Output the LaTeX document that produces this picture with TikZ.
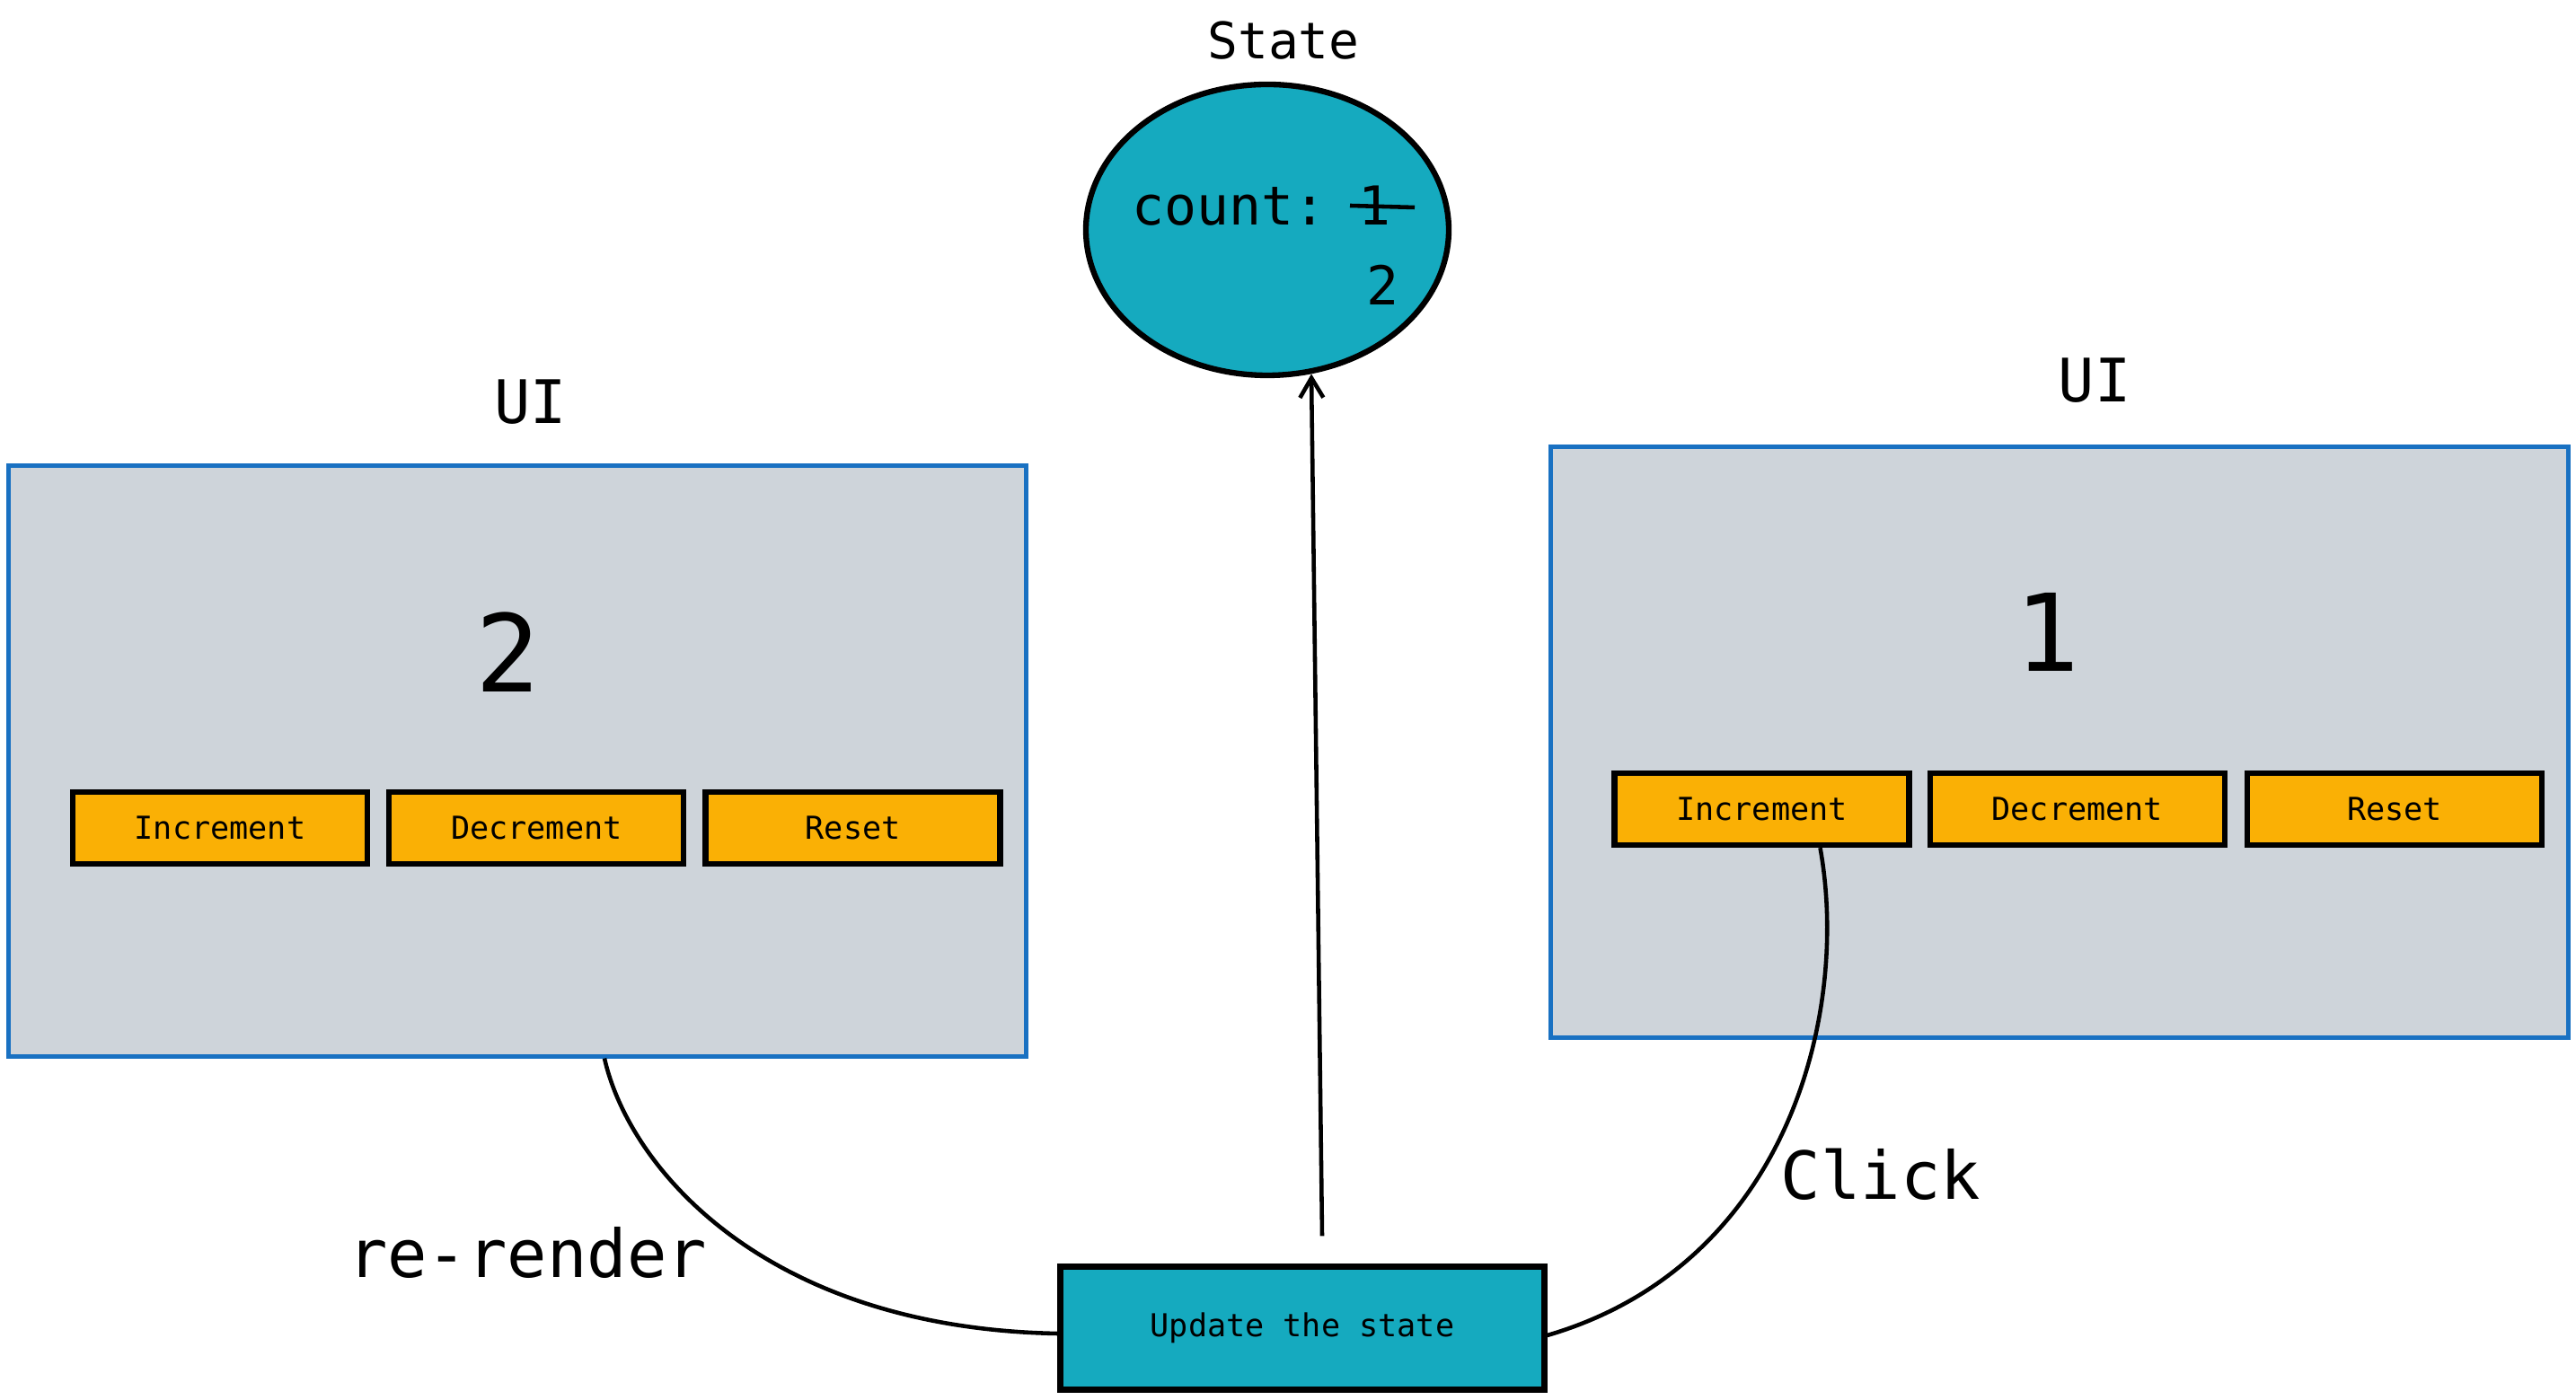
\documentclass[tikz,border=0pt]{standalone}
\usepackage{fontspec}
\setmonofont{DejaVu Sans Mono}
\usetikzlibrary{calc}
\usetikzlibrary{shapes.geometric, arrows.meta, positioning}

\definecolor{uigrey}{HTML}{CED4DA}
\definecolor{uiblue}{HTML}{1971C2}
\definecolor{btnyellow}{HTML}{FAB005}
\definecolor{stateteal}{HTML}{15AABF}

\tikzset{
  uibox/.style={draw=uiblue, fill=uigrey, line width=1.2pt, minimum width=11.33cm, minimum height=6.58cm},
  btn/.style={draw=black, fill=btnyellow, line width=1.8pt, minimum width=3.28cm, minimum height=0.8cm, inner sep=0pt, font=\ttfamily\fontsize{10}{12}\selectfont},
  flow/.style={draw=black, line width=1.3pt},
  txt/.style={inner sep=0pt, font=\ttfamily\fontsize{#1}{#1}\selectfont}
}

\begin{document}
\begin{tikzpicture}
\useasboundingbox (0,0) rectangle (28.68,15.59);

% State bubble
\node[txt=16] (statelbl) at (14.29,15.14) {State};
\node[ellipse, draw=black, fill=stateteal, line width=1.8pt, minimum width=4.04cm, minimum height=3.24cm, inner sep=0pt] (state) at (14.11,13.03) {};
\node[txt=17, anchor=base west] (cnt) at (12.60,13.08) {count: 1};
\node[txt=17, anchor=base west] (cntnew) at (15.21,12.19) {2};
\draw[line width=1.3pt] (15.03,13.30) -- (15.75,13.28);

% UI before the click (right)
\node[txt=19] (uiRlbl) at (23.32,11.35) {UI};
\node[uibox] (uiR) at (22.93,7.325) {};
\node[txt=34] (numR) at (22.79,8.55) {1};
\node[btn] (incR) at (19.615,6.58) {Increment};
\node[btn, right=0.17cm of incR] (decR) {Decrement};
\node[btn, right=0.19cm of decR] (resR) {Reset};

% UI after the re-render (left)
\node[txt=19] (uiLlbl) at (5.91,11.11) {UI};
\node[uibox] (uiL) at (5.76,7.115) {};
\node[txt=34] (numL) at (5.65,8.33) {2};
\node[btn] (incL) at (2.45,6.37) {Increment};
\node[btn, right=0.18cm of incL] (decL) {Decrement};
\node[btn, right=0.18cm of decL] (resL) {Reset};

% Update step
\node[draw=black, fill=stateteal, line width=1.8pt, minimum width=5.39cm, minimum height=1.37cm, font=\ttfamily\fontsize{10}{12}\selectfont] (upd) at (14.50,0.80) {Update the state};

% Labels
\node[txt=21] (clicklbl) at (20.94,2.51) {Click};
\node[txt=21] (renderlbl) at (5.87,1.64) {re-render};

% Connectors
\draw[flow] ([xshift=0.65cm]incR.south) .. controls (20.6,4.3) and (19.9,1.5) .. ([yshift=-0.08cm]upd.east);
\draw[flow, -{Straight Barb[length=2.2mm,width=2.6mm]}] ($(upd.north)+(0.22,0.31)$) -- (state.287);
\draw[flow] ($(uiL.south)+(0.97,0)$) .. controls (7.0,2.6) and (8.5,0.8) .. ([yshift=-0.06cm]upd.west);

\end{tikzpicture}
\end{document}
